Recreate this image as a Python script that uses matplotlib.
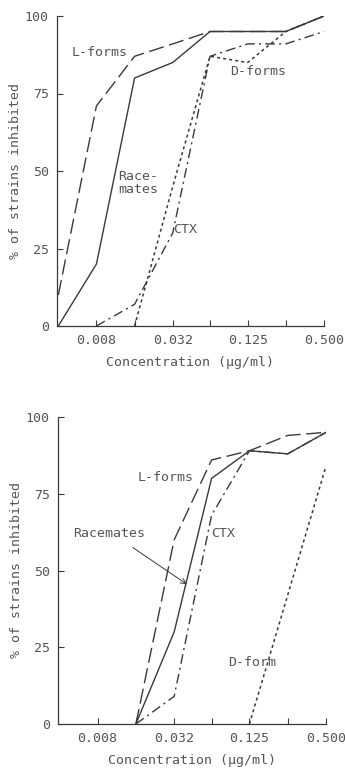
import matplotlib
matplotlib.use("Agg")
import matplotlib.pyplot as plt

plt.rcParams['font.family'] = ['DejaVu Sans Mono']
plt.rcParams['font.size'] = 9.5

conc = [0.004, 0.008, 0.016, 0.032, 0.063, 0.125, 0.25, 0.5]
tick_pos = [0.008, 0.016, 0.032, 0.063, 0.125, 0.25, 0.5]
tick_lab = ["0.008", "", "0.032", "", "0.125", "", "0.500"]

# upper panel
l_top = [10, 71, 87, 91, 95, 95, 95, 100]
rac_top = [0, 20, 80, 85, 95, 95, 95, 100]
ctx_conc_top = [0.008, 0.016, 0.032, 0.063, 0.125, 0.25, 0.5]
ctx_top = [0, 7, 30, 87, 91, 91, 95]
d_conc_top = [0.016, 0.032, 0.063, 0.125, 0.25, 0.5]
d_top = [0, 45, 87, 85, 95, 100]

# lower panel
low_conc = [0.016, 0.032, 0.063, 0.125, 0.25, 0.5]
l_low = [0, 60, 86, 89, 94, 95]
rac_low = [0, 30, 80, 89, 88, 95]
ctx_low = [0, 9, 68, 89, 88, 95]
d_conc_low = [0.125, 0.25, 0.5]
d_low = [0, 42, 84]

ink = "#3a3a3a"
txt = "#555555"
ls_l = (0, (11, 4))
ls_ctx = (0, (7, 3, 1.5, 3))
ls_d = (0, (2, 2))

fig = plt.figure(figsize=(3.45, 7.7), dpi=100)
ax1 = fig.add_axes([57/345, 1-326/770, 267/345, 310/770])
ax2 = fig.add_axes([58/345, 1-724/770, 268/345, 307/770])

def style(ax):
    ax.set_xscale("log", base=2)
    ax.set_xlim(0.5/128, 0.5)
    ax.set_ylim(0, 100)
    for s in ["top", "right"]:
        ax.spines[s].set_visible(False)
    for s in ["left", "bottom"]:
        ax.spines[s].set_color(ink)
        ax.spines[s].set_linewidth(0.9)
    ax.set_xticks(tick_pos)
    ax.set_xticklabels(tick_lab)
    ax.minorticks_off()
    ax.set_yticks([0, 25, 50, 75, 100])
    ax.tick_params(direction="in", length=4, width=0.8, color=ink,
                   labelcolor=txt, pad=6)
    ax.set_xlabel("Concentration (µg/ml)", color=txt, labelpad=6)
    ax.set_ylabel("% of strains inhibited", color=txt, labelpad=2)
    ax.patch.set_alpha(0)

style(ax1)
ax1.plot(conc, l_top, color=ink, lw=1, linestyle=ls_l)
ax1.plot(conc, rac_top, color=ink, lw=1)
ax1.plot(ctx_conc_top, ctx_top, color=ink, lw=1, linestyle=ls_ctx)
ax1.plot(d_conc_top, d_top, color=ink, lw=1.1, linestyle=ls_d)
ax1.text(0.0051, 87, "L-forms", color=txt)
ax1.text(0.091, 81, "D-forms", color=txt)
ax1.text(0.0118, 43, "Race-\nmates", color=txt, linespacing=1.0)
ax1.text(0.032, 30, "CTX", color=txt)

style(ax2)
ax2.plot(low_conc, l_low, color=ink, lw=1, linestyle=ls_l)
ax2.plot(low_conc, rac_low, color=ink, lw=1)
ax2.plot(low_conc, ctx_low, color=ink, lw=1, linestyle=ls_ctx)
ax2.plot(d_conc_low, d_low, color=ink, lw=1.1, linestyle=ls_d)
ax2.text(0.0165, 79, "L-forms", color=txt)
ax2.text(0.0051, 61, "Racemates", color=txt)
ax2.text(0.063, 61, "CTX", color=txt)
ax2.text(0.085, 19, "D-form", color=txt)
ax2.annotate("", xy=(0.042, 45), xytext=(0.0145, 58),
             arrowprops=dict(arrowstyle="->", color=ink, lw=0.7))

fig.savefig("out.png", dpi=100)
